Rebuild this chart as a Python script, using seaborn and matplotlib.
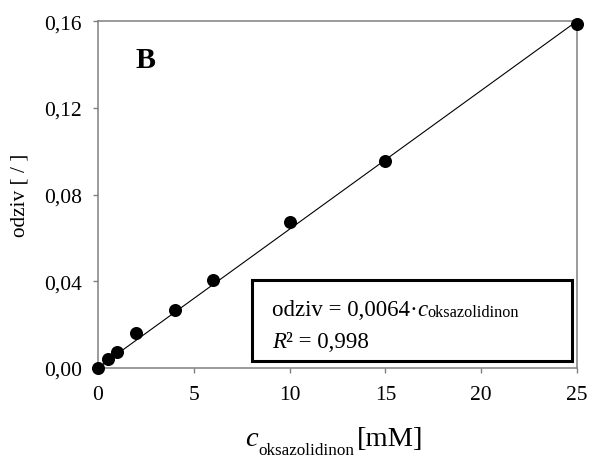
import numpy as np
import pandas as pd
import seaborn as sns
import matplotlib.pyplot as plt
from matplotlib.ticker import FuncFormatter

# calibration data
conc = [0, 0.5, 1, 2, 4, 6, 10, 15, 25]
odziv = [0.0, 0.0041, 0.0074, 0.0161, 0.0267, 0.0407, 0.0675, 0.0954, 0.1586]
slope = 0.0064
fit_x = [0, 25]
fit_y = [slope * v for v in fit_x]

x_ticks = [0, 5, 10, 15, 20, 25]
y_ticks = [0.0, 0.04, 0.08, 0.12, 0.16]

sns.set_style("white")
plt.rcParams["font.family"] = ["Liberation Serif", "DejaVu Serif"]
plt.rcParams["text.color"] = "black"
plt.rcParams["axes.labelcolor"] = "black"

df = pd.DataFrame({"conc": conc, "odziv": odziv})

fig = plt.figure(figsize=(5.9, 4.6), dpi=100)
ax = fig.add_axes([0.166, 0.198, 0.812, 0.754])

sns.lineplot(x=fit_x, y=fit_y, color="black", linewidth=0.8, ax=ax)
sns.scatterplot(data=df, x="conc", y="odziv", color="black", s=88,
                linewidth=0, ax=ax, zorder=3, clip_on=False)

ax.set_xlim(0, 25)
ax.set_ylim(0, 0.16)
ax.set_xticks(x_ticks)
ax.set_yticks(y_ticks)
ax.yaxis.set_major_formatter(FuncFormatter(lambda v, p: f"{v:.2f}".replace(".", ",")))
ax.tick_params(axis="both", direction="out", length=3.5, width=1, color="#808080",
               labelsize=15.5, labelcolor="black", bottom=True, left=True)
ax.tick_params(axis="x", pad=9)
ax.tick_params(axis="y", pad=8)
for sp in ax.spines.values():
    sp.set_color("#808080")
    sp.set_linewidth(1.1)

ax.set_xlabel("")
ax.set_ylabel("odziv [ / ]", fontsize=15.3)
ax.yaxis.set_label_coords(-0.143, 0.5)

# x label built from pieces: c (italic) + subscript + unit
c_x = ax.text(0.307, -0.222, "c", transform=ax.transAxes, fontsize=20.5,
              style="italic", va="baseline", ha="left")
c_sub = ax.annotate("oksazolidinon", xy=(1, 0), xycoords=c_x, xytext=(0.5, -4.8),
                    textcoords="offset points", fontsize=12.3, va="bottom", ha="left")
ax.annotate("[mM]", xy=(1, 0), xycoords=c_sub, xytext=(1.5, 4.8),
            textcoords="offset points", fontsize=20.5, va="bottom", ha="left")

ax.text(0.079, 0.867, "B", transform=ax.transAxes, fontsize=21.5, fontweight="bold",
        va="baseline", ha="left")

# equation box
ax.add_patch(plt.Rectangle((0.321, 0.020), 0.669, 0.234, transform=ax.transAxes,
                           fill=True, facecolor="white", edgecolor="black",
                           linewidth=2.2, zorder=4))
eq1 = ax.text(0.363, 0.153, "odziv = 0,0064\u00b7", transform=ax.transAxes,
              fontsize=16.5, va="baseline", ha="left", zorder=5)
eq_c = ax.annotate("c", xy=(1, 0), xycoords=eq1, xytext=(0, 0),
                   textcoords="offset points", fontsize=16.5, style="italic",
                   va="bottom", ha="left", zorder=5)
ax.annotate("oksazolidinon", xy=(1, 0), xycoords=eq_c, xytext=(0, 0),
            textcoords="offset points", fontsize=11.7, va="bottom", ha="left", zorder=5)
eq2 = ax.text(0.363, 0.0605, "R", transform=ax.transAxes, fontsize=16.5,
              style="italic", va="baseline", ha="left", zorder=5)
ax.annotate("\u00b2 = 0,998", xy=(1, 0), xycoords=eq2, xytext=(0, 0),
            textcoords="offset points", fontsize=16.5, va="bottom", ha="left", zorder=5)

fig.savefig("out.png", dpi=100)
